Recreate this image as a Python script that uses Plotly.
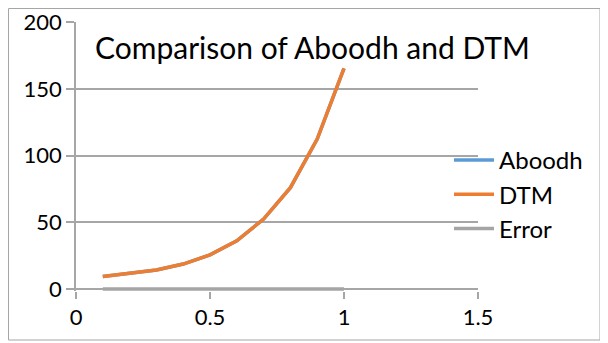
import plotly.graph_objects as go

x_vals = [0.1, 0.2, 0.3, 0.4, 0.5, 0.6, 0.7, 0.8, 0.9, 1.0]
aboodh = [9.4, 11.5, 14.2, 18.7, 25.6, 36.2, 52.5, 76.0, 112.5, 165.5]
dtm = [9.4, 11.5, 14.2, 18.7, 25.6, 36.2, 52.5, 76.0, 112.5, 165.5]
error = [0, 0, 0, 0, 0, 0, 0, 0, 0, 0]
x_ticks = [0, 0.5, 1, 1.5]
x_tick_labels = ["0", "0.5", "1", "1.5"]
y_ticks = [0, 50, 100, 150, 200]

FONT = "Lato"
# page body has an 8px margin, so the figure is laid out in shifted coordinates
W, H = 600, 335
L, R, T, B = 68, 130, 14, 52
pw = W - L - R
ph = H - T - B

fig = go.Figure()
fig.add_trace(go.Scatter(x=x_vals, y=aboodh, mode="lines", name="Aboodh",
                         line=dict(color="#5B9BD5", width=3.5)))
fig.add_trace(go.Scatter(x=x_vals, y=dtm, mode="lines", name="DTM",
                         line=dict(color="#ED7D31", width=3.5)))
fig.add_trace(go.Scatter(x=x_vals, y=error, mode="lines", name="Error",
                         line=dict(color="#A5A5A5", width=3.5)))

fig.update_layout(
    width=W, height=H,
    margin=dict(l=L, r=R, t=T, b=B),
    paper_bgcolor="white", plot_bgcolor="white",
    font=dict(family=FONT, color="black", size=22),
    title=dict(text="Comparison of Aboodh and DTM", x=87 / W, xanchor="left",
               y=1 - 40 / H, yanchor="middle",
               font=dict(family=FONT, size=30, color="black")),
    legend=dict(x=(441 - L) / pw, y=1 - (130 - T) / ph, xanchor="left", yanchor="top",
                bgcolor="rgba(0,0,0,0)", font=dict(size=24, family=FONT),
                itemwidth=40),
    showlegend=True,
    xaxis=dict(range=[0, 1.5], tickvals=x_ticks, ticktext=x_tick_labels,
               showgrid=False, zeroline=False, showline=False, automargin=False,
               ticks="outside", ticklen=7, tickcolor="#A6A6A6", tickwidth=1.5,
               tickfont=dict(size=22, family=FONT)),
    yaxis=dict(range=[-1.5, 200.3], tickvals=y_ticks, showgrid=True, gridcolor="#A6A6A6",
               gridwidth=1.5, zeroline=False, showline=True, linecolor="#A6A6A6",
               linewidth=1.5, ticks="outside", ticklen=8, tickcolor="#A6A6A6",
               tickwidth=1.5, tickfont=dict(size=22, family=FONT), automargin=False),
)
fig.add_shape(type="rect", xref="paper", yref="paper",
              x0=(0.5 - L) / pw, x1=(592 - L) / pw,
              y0=1 - (332 - T) / ph, y1=1 - (0.5 - T) / ph,
              line=dict(color="#A6A6A6", width=1), layer="below")
fig.write_html("out.html")
